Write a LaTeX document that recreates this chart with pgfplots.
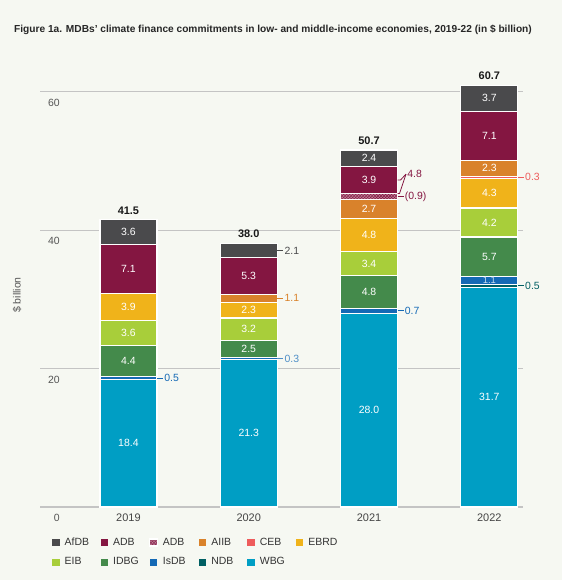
\documentclass[border=0pt]{standalone}
\usepackage{pgfplots}
\pgfplotsset{compat=1.18}
\usepackage{fontspec}
\setmainfont{Liberation Sans}
\usetikzlibrary{patterns}

\definecolor{bg}{HTML}{F6F8F2}
\definecolor{afdb}{HTML}{4A4A4C}
\definecolor{adb}{HTML}{841641}
\definecolor{aiib}{HTML}{D9822B}
\definecolor{ceb}{HTML}{EE5C5C}
\definecolor{ebrd}{HTML}{F0B31A}
\definecolor{eib}{HTML}{A8CE3A}
\definecolor{idbg}{HTML}{448A4B}
\definecolor{isdb}{HTML}{1469B5}
\definecolor{ndb}{HTML}{005F63}
\definecolor{wbg}{HTML}{009EC4}
\definecolor{gridc}{HTML}{C4C4C4}
\definecolor{tickc}{HTML}{555555}

\newcommand{\fs}{\fontsize{10.5}{12}\selectfont}
% axis placement in bp: x = 128.42 + i*120.3, y = 73 + v*6.9203
\newcommand{\vl}[3]{\node[font=\fs, text=white] at ({128.42+#1*120.3},{73+#2*6.9203}) {#3};}
\newcommand{\sidelab}[4]{\draw[#4, line width=0.8bp] ({156.92+#1*120.3},{73+#2*6.9203}) -- ++(6,0)
  node[right, inner sep=1bp, font=\fs, text=#4] {#3};}
\newcommand{\total}[3]{\node[anchor=south, font=\bfseries\fontsize{11}{12}\selectfont, text=black!90] at ({128.42+#1*120.3},{75+#2*6.9203}) {#3};}

\begin{document}
\begin{tikzpicture}[x=1bp,y=1bp]
\fill[bg] (0,0) rectangle (562,580);
\useasboundingbox (0,0) rectangle (562,580);
\node[anchor=west, inner sep=0, font=\bfseries\fontsize{10.2}{12}\selectfont, text=black!85]
  at (14,550) {Figure 1a. MDBs' climate finance commitments in low- and middle-income economies, 2019-22 (in \$ billion)};
\node[rotate=90, text=tickc, font=\fs] at (17,285) {\$ billion};

\begin{axis}[
  at={(40bp,73bp)}, anchor=south west,
  scale only axis, width=483bp, height=442.9bp,
  xmin=-0.735, xmax=3.28, ymin=0, ymax=64,
  ybar stacked, bar width=57bp,
  clip=false,
  axis line style={draw=none},
  tick style={draw=none},
  ytick={0,20,40,60},
  ymajorgrids, grid style={gridc, line width=1.3bp},
  xtick={0,1,2,3}, xticklabels={2019,2020,2021,2022},
  /pgf/number format/assume math mode=true,
  yticklabel style={anchor=east, inner sep=0pt, xshift=20bp, yshift=-11bp, text=tickc, font=\fs},
  xticklabel style={anchor=center, inner sep=0pt, yshift=-11bp, text=tickc!80!black, font=\fontsize{11}{12}\selectfont},
  every axis plot/.append style={draw=white, line width=1.2bp},
  reverse legend,
  legend columns=6,
  legend image code/.code={\fill[#1, draw=none] (0bp,-3.5bp) rectangle (7.5bp,3.5bp);},
  legend style={at={(0.0248,-0.069)}, anchor=north west, draw=none, fill=none,
    inner sep=0pt, font=\fs, text=black!80,
    nodes={inner sep=0pt, text height=7.5bp, text depth=2bp},
    row sep=10bp},
]
\addplot[fill=wbg] coordinates {(0,18.4) (1,21.3) (2,28.0) (3,31.7)};
\addlegendentry{\hspace*{5bp}\makebox[36bp][l]{WBG}}
\addplot[fill=ndb] coordinates {(0,0) (1,0) (2,0) (3,0.5)};
\addlegendentry{\hspace*{5bp}\makebox[36bp][l]{NDB}}
\addplot[fill=isdb] coordinates {(0,0.5) (1,0.3) (2,0.7) (3,1.1)};
\addlegendentry{\hspace*{5bp}\makebox[36bp][l]{IsDB}}
\addplot[fill=idbg] coordinates {(0,4.4) (1,2.5) (2,4.8) (3,5.7)};
\addlegendentry{\hspace*{5bp}\makebox[36bp][l]{IDBG}}
\addplot[fill=eib] coordinates {(0,3.6) (1,3.2) (2,3.4) (3,4.2)};
\addlegendentry{\hspace*{5bp}\makebox[36bp][l]{EIB}}
\addplot[fill=ebrd] coordinates {(0,3.9) (1,2.3) (2,4.8) (3,4.3)};
\addlegendentry{\hspace*{5bp}\makebox[36bp][l]{EBRD}}
\addplot[fill=ceb] coordinates {(0,0) (1,0) (2,0) (3,0.3)};
\addlegendentry{\hspace*{5bp}\makebox[36bp][l]{CEB}}
\addplot[fill=aiib] coordinates {(0,0) (1,1.1) (2,2.7) (3,2.3)};
\addlegendentry{\hspace*{5bp}\makebox[36bp][l]{AIIB}}
\addplot[fill=adb!55, postaction={pattern=crosshatch, pattern color=adb}] coordinates {(0,0) (1,0) (2,0.9) (3,0)};
\addlegendentry{\hspace*{5bp}\makebox[36bp][l]{ADB}}
\addplot[fill=adb] coordinates {(0,7.1) (1,5.3) (2,3.9) (3,7.1)};
\addlegendentry{\hspace*{5bp}\makebox[36bp][l]{ADB}}
\addplot[fill=afdb] coordinates {(0,3.6) (1,2.1) (2,2.4) (3,3.7)};
\addlegendentry{\hspace*{5bp}\makebox[36bp][l]{AfDB}}
\end{axis}

% values inside the bars
\vl{0}{9.2}{18.4} \vl{0}{21.1}{4.4} \vl{0}{25.1}{3.6} \vl{0}{28.85}{3.9} \vl{0}{34.35}{7.1} \vl{0}{39.7}{3.6}
\vl{1}{10.65}{21.3} \vl{1}{22.85}{2.5} \vl{1}{25.7}{3.2} \vl{1}{28.45}{2.3} \vl{1}{33.35}{5.3}
\vl{2}{14}{28.0} \vl{2}{31.1}{4.8} \vl{2}{35.2}{3.4} \vl{2}{39.3}{4.8} \vl{2}{43.05}{2.7} \vl{2}{47.25}{3.9} \vl{2}{50.4}{2.4}
\vl{3}{15.85}{31.7} \vl{3}{36.15}{5.7} \vl{3}{41.1}{4.2} \vl{3}{45.35}{4.3} \vl{3}{48.95}{2.3} \vl{3}{53.65}{7.1} \vl{3}{59.05}{3.7}
\node[font=\fontsize{9.5}{10}\selectfont, text=white!75!isdb] at ({128.42+3*120.3},{73+32.75*6.9203}) {1.1};

% values beside thin segments
\sidelab{0}{18.65}{0.5}{isdb}
\sidelab{1}{21.45}{0.3}{isdb!75!white}
\sidelab{1}{30.15}{1.1}{aiib}
\sidelab{1}{37.05}{2.1}{afdb}
\sidelab{2}{28.35}{0.7}{isdb}
\sidelab{2}{44.85}{(0.9)}{adb}
\sidelab{3}{31.95}{0.5}{ndb}
\sidelab{3}{47.65}{0.3}{ceb}
\draw[adb, line width=0.8bp] ({156.92+2*120.3},{73+47.25*6.9203}) -- ++(3,0) -- ({165.4+2*120.3},{73+48.1*6.9203});
\draw[adb, line width=0.8bp] ({156.92+2*120.3},{73+45.3*6.9203}) -- ++(2,0) -- ({165.4+2*120.3},{73+48.1*6.9203})
  node[right, inner sep=1bp, font=\fs, text=adb] {4.8};

% totals
\total{0}{41.5}{41.5}
\total{1}{38.1}{38.0}
\total{2}{51.6}{50.7}
\total{3}{60.9}{60.7}
\end{tikzpicture}
\end{document}
